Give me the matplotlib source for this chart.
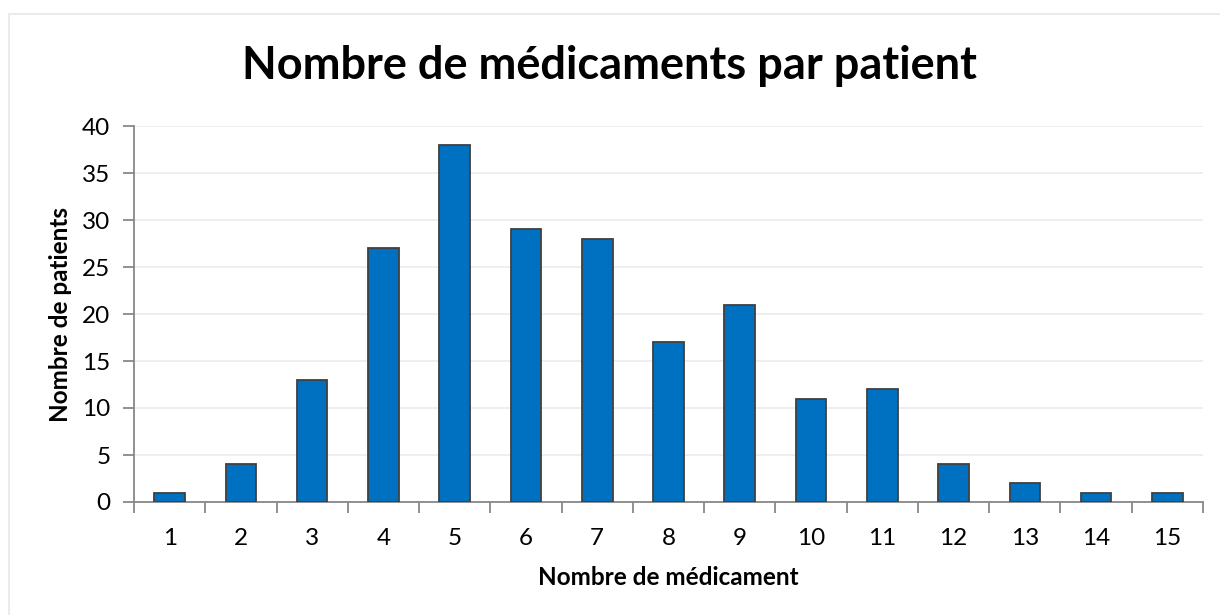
import matplotlib
matplotlib.use("Agg")
import matplotlib.pyplot as plt
from matplotlib.patches import Rectangle
import numpy as np

categories = [str(i) for i in range(1, 16)]
values = [1, 4, 13, 27, 38, 29, 28, 17, 21, 11, 12, 4, 2, 1, 1]
yticks = [0, 5, 10, 15, 20, 25, 30, 35, 40]

plt.rcParams['font.family'] = ['Lato', 'DejaVu Sans']

fig = plt.figure(figsize=(12.2, 6.15), dpi=100)
fig.patches.append(Rectangle((8.5/1220, -0.1), 1.2, 1.1 - 13.5/615, transform=fig.transFigure,
                             fill=False, edgecolor='#EBEBEB', linewidth=1.5))
ax = fig.add_axes([134/1220, 1-502/615, (1203-134)/1220, (502-126)/615])

x = np.arange(len(categories))
ax.bar(x, values, width=0.43, color='#0070C0', edgecolor='#404040', linewidth=1.3, zorder=3)

ax.set_xlim(-0.5, len(categories) - 0.5)
ax.set_ylim(0, 40)
ax.set_yticks(yticks)
ax.set_yticklabels([str(v) for v in yticks], fontsize=17.5)
ax.yaxis.grid(True, color='#EBEBEB', linewidth=1.2, zorder=0)
ax.set_xticks(x)
ax.set_xticklabels(categories, fontsize=17.5)
ax.tick_params(axis='x', which='major', length=0, pad=19)
ax.set_xticks(np.arange(-0.5, len(categories), 1), minor=True)
ax.tick_params(axis='x', which='minor', length=8, color='#888888', width=1.3)
ax.tick_params(axis='y', length=8, color='#888888', width=1.3, pad=9)

for s in ['top', 'right']:
    ax.spines[s].set_visible(False)
for s in ['left', 'bottom']:
    ax.spines[s].set_color('#888888')
    ax.spines[s].set_linewidth(1.3)

ax.set_xlabel('Nombre de médicament', fontsize=17.5, fontweight='bold', labelpad=12)
ax.set_ylabel('Nombre de patients', fontsize=17.5, fontweight='bold', labelpad=7)
fig.text(0.5, 1-66/615, 'Nombre de médicaments par patient', fontsize=32.5, fontweight='bold',
         ha='center', va='center')

fig.savefig('out.png', dpi=100)
